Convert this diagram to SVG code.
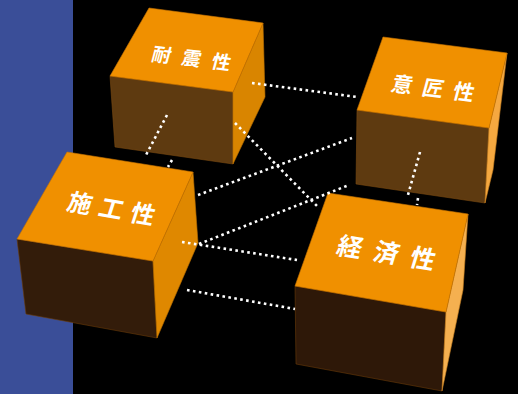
<svg xmlns="http://www.w3.org/2000/svg" width="518" height="394" viewBox="0 0 518 394">
<style>
.top{fill:#f09000;stroke:#c87400;stroke-width:0.6}
.lbl{font-family:"Noto Sans CJK JP","Noto Sans CJK SC",sans-serif;font-weight:700;fill:#ffffff;text-anchor:middle;dominant-baseline:central}
.dot{fill:none;stroke:#ffffff;stroke-width:2.6;stroke-dasharray:2.6 3.4}
</style>
<rect width="518" height="394" fill="#000000"/>
<rect width="73" height="394" fill="#3a4e98"/>
<g id="node-taishin">
<polygon points="110,76 233,92 233,164 115,147" fill="#5e3a10" stroke="#7a4a10" stroke-width="0.6"/>
<polygon points="263,23 265,97 233,164 233,92" fill="#d98500" stroke="#b86e00" stroke-width="0.6"/>
<polygon class="top" points="149,8 263,23 233,92 110,76"/>
<g transform="translate(192,57) rotate(7) skewX(-8)"><text class="lbl" font-size="19" x="-30 0 30" y="0">耐震性</text></g>
</g>
<g id="node-isho">
<polygon points="357,110 489,128 485,203 356,184" fill="#5e3a10" stroke="#7a4a10" stroke-width="0.6"/>
<polygon points="507,53 489,128 485,203 493,170" fill="#f5a840" stroke="#c88020" stroke-width="0.6"/>
<polygon class="top" points="383,37 507,53 489,128 357,110"/>
<g transform="translate(433.5,87) rotate(7) skewX(-8)"><text class="lbl" font-size="21" x="-31 0 31" y="0">意匠性</text></g>
</g>
<g id="node-seko">
<polygon points="17,239 153,261 157,338 26,314" fill="#331c0a" stroke="#6a3a08" stroke-width="0.6"/>
<polygon points="193,172 198,243 157,338 153,261" fill="#df8800" stroke="#b86e00" stroke-width="0.6"/>
<polygon class="top" points="67,152 193,172 153,261 17,239"/>
<g transform="translate(112,207) rotate(10) skewX(-8)"><text class="lbl" font-size="24" x="-32 0 32" y="0">施工性</text></g>
</g>
<g id="node-keizai">
<polygon points="295,286 446,312 442,391 296,364" fill="#2e1808" stroke="#6a3a08" stroke-width="0.6"/>
<polygon points="468,214 463,290 442,391 446,312" fill="#f5b050" stroke="#c88020" stroke-width="0.6"/>
<polygon class="top" points="328,193 468,214 446,312 295,286"/>
<g transform="translate(387,251) rotate(9) skewX(-8)"><text class="lbl" font-size="25" x="-37 0 37" y="0">経済性</text></g>
</g>
<g id="connectors">
<line class="dot" x1="252" y1="83" x2="357" y2="97"/>
<line class="dot" x1="167" y1="115" x2="145" y2="157"/>
<line class="dot" x1="172" y1="160" x2="168" y2="167"/>
<line class="dot" x1="235" y1="123" x2="317" y2="206"/>
<line class="dot" x1="198" y1="195" x2="352" y2="138"/>
<line class="dot" x1="182" y1="242" x2="297" y2="260"/>
<line class="dot" x1="199" y1="244" x2="349" y2="185"/>
<line class="dot" x1="187" y1="290" x2="295" y2="309"/>
<line class="dot" x1="420" y1="152" x2="408" y2="195"/>
<line class="dot" x1="418" y1="198" x2="417" y2="205"/>
</g>
</svg>
